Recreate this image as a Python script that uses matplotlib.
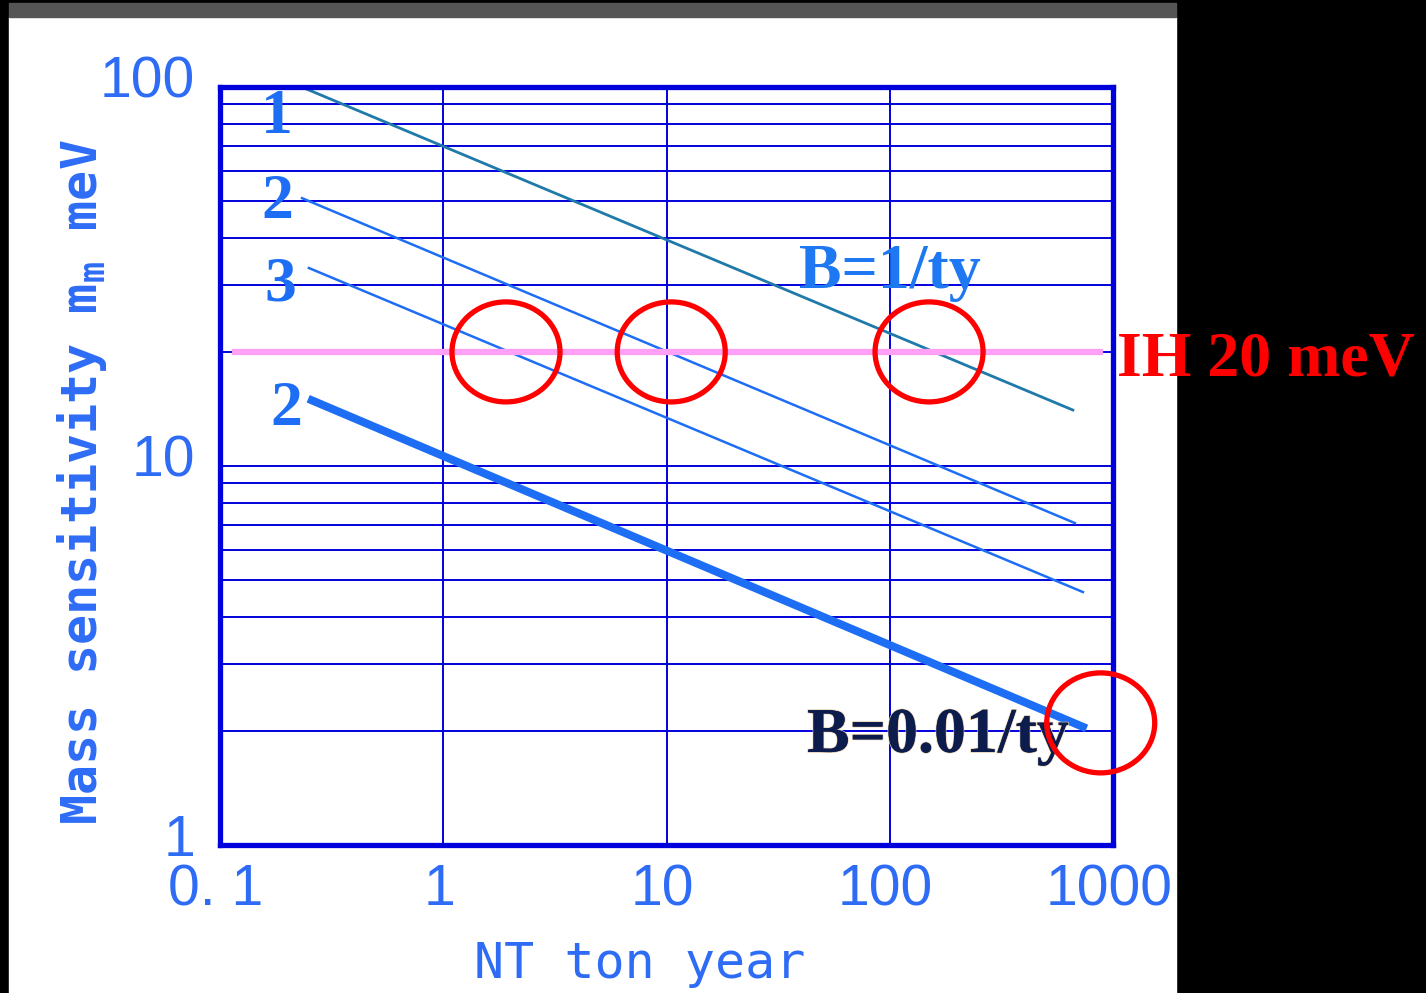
import matplotlib
matplotlib.use("Agg")
import matplotlib.pyplot as plt
from matplotlib import font_manager as fm
from matplotlib.patches import Rectangle, Ellipse
from matplotlib.ticker import FixedLocator, NullLocator, LogLocator
from matplotlib.transforms import ScaledTranslation
import matplotlib.patheffects as pe

# ---------------- data ----------------
x_ticks = [0.1, 1, 10, 100, 1000]
x_tick_labels = ["0. 1", "1", "10", "100", "1000"]
y_ticks = [1, 10, 100]
y_tick_labels = ["1", "10", "100"]

# sensitivity curves (NT in ton-year, m in meV), straight lines in log-log
nt_1 = [0.223, 661];  m_1 = [101.0, 14.05]   # B=1/ty, "1"
nt_2 = [0.233, 675];  m_2 = [50.9, 7.07]     # B=1/ty, "2"
nt_3 = [0.25, 733];   m_3 = [33.3, 4.65]     # B=1/ty, "3"
nt_4 = [0.258, 733];  m_4 = [14.9, 2.05]     # B=0.01/ty, "2"

curve_labels = ["1", "2", "3", "2"]
label_nt = [0.18, 0.18, 0.186, 0.198]
label_m = [75.6, 45.1, 27.4, 12.8]

ih_nt = [0.117, 873]; ih_m = [20, 20]

circle_nt = [1.91, 10.5, 150, 881]
circle_m = [20, 20, 20, 2.1]

# ---------------- fonts ----------------
names = {f.name for f in fm.fontManager.ttflist}
def pick(cands):
    for c in cands:
        if c in names:
            return c
    return cands[-1]

tick_font = pick(["Liberation Sans Narrow", "Liberation Sans"])
mono_font = pick(["Noto Sans Mono CJK JP", "DejaVu Sans Mono"])
serif_font = pick(["Liberation Serif", "DejaVu Serif"])
tick_size = 46 if tick_font == "Liberation Sans Narrow" else 41
mono_size = 42 if mono_font == "Noto Sans Mono CJK JP" else 36

W, H = 1426, 993
TXT_BLUE = "#2e6cf6"
GRID = "#0000dd"

fig = plt.figure(figsize=(W / 100, H / 100), dpi=100, facecolor="black")
# white panel and gray top bar
fig.patches.append(Rectangle((9 / W, 0), (1176 - 9) / W, (H - 17) / H,
                             transform=fig.transFigure, color="white", zorder=-10))
fig.patches.append(Rectangle((9 / W, 1 - 17 / H), (1176 - 9) / W, 14 / H,
                             transform=fig.transFigure, color="#555555", zorder=-10))

ax = fig.add_axes([220 / W, 1 - 845 / H, 893 / W, 758 / H])
ax.set_facecolor("white")
ax.set_xscale("log")
ax.set_yscale("log")
ax.set_xlim(0.1, 1000)
ax.set_ylim(1, 100)

ax.xaxis.set_major_locator(FixedLocator(x_ticks))
ax.xaxis.set_minor_locator(NullLocator())
ax.yaxis.set_major_locator(FixedLocator(y_ticks))
ax.yaxis.set_minor_locator(LogLocator(base=10, subs=range(2, 10)))
ax.set_xticklabels(x_tick_labels)
ax.set_yticklabels(y_tick_labels)
ax.yaxis.set_minor_formatter(plt.NullFormatter())
ax.tick_params(which="both", length=0)
ax.tick_params(axis="x", pad=13, labelsize=tick_size, labelcolor=TXT_BLUE)
ax.tick_params(axis="y", pad=18, labelsize=tick_size, labelcolor=TXT_BLUE)
for lab in ax.get_xticklabels() + ax.get_yticklabels():
    lab.set_fontfamily(tick_font)
for lab in ax.get_yticklabels():
    lab.set_transform(lab.get_transform() + ScaledTranslation(0, 0.1, fig.dpi_scale_trans))
for lab in ax.get_xticklabels():
    lab.set_transform(lab.get_transform() + ScaledTranslation(-0.04, 0, fig.dpi_scale_trans))

ax.grid(which="major", axis="both", color=GRID, lw=1.4)
ax.grid(which="minor", axis="y", color=GRID, lw=1.4)
ax.set_axisbelow(True)
for s in ax.spines.values():
    s.set_color(GRID)
    s.set_linewidth(3.8)
    s.set_zorder(5)

# curves
ax.plot(nt_1, m_1, color="#1f7aaa", lw=2.0, zorder=3)
ax.plot(nt_2, m_2, color="#1e6ef5", lw=1.8, zorder=3)
ax.plot(nt_3, m_3, color="#1e6ef5", lw=1.8, zorder=3)
ax.plot(nt_4, m_4, color="#1e6ef5", lw=5.8, zorder=3)
ax.plot(ih_nt, ih_m, color="#ffa0f6", lw=4.5, zorder=3)

for t, xv, yv in zip(curve_labels, label_nt, label_m):
    ax.text(xv, yv, t, ha="center", va="baseline", fontsize=46,
            fontweight="bold", family=serif_font, color="#1e6ef5", zorder=4)

ax.text(100, 29.5, "B=1/ty", ha="center", va="baseline", fontsize=46,
        fontweight="bold", family=serif_font, color="#1e78f2", zorder=4)
ax.text(164, 1.76, "B=0.01/ty", ha="center", va="baseline", fontsize=46,
        fontweight="bold", family=serif_font, color="#0c1c4c", zorder=4,
        path_effects=[pe.withStroke(linewidth=1.2, foreground="#e6cfae"), pe.Normal()])

# red circles (pixel-sized ellipses)
fig.canvas.draw()
to_axes = ax.transData + ax.transAxes.inverted()
for xv, yv in zip(circle_nt, circle_m):
    cx, cy = to_axes.transform((xv, yv))
    ax.add_patch(Ellipse((cx, cy), 108 / 893, 100 / 758, transform=ax.transAxes,
                         fill=False, edgecolor="#ff0000", lw=3.8, zorder=6, clip_on=False))

# IH label
fig.text(1117 / W, 1 - 375 / H, "IH 20 meV", ha="left", va="baseline", fontsize=46,
         fontweight="bold", family=serif_font, color="#ff0000")

# axis labels
fig.text(640 / W, 1 - 978 / H, "NT ton year", ha="center", va="baseline",
         fontsize=mono_size, family=[mono_font, "DejaVu Sans Mono"], color=TXT_BLUE)
fig.text(97 / W, 1 - 482 / H, r"Mass sensitivity m$_{\mathregular{m}}$ meV",
         rotation=90, rotation_mode="anchor", ha="center", va="baseline",
         fontsize=mono_size, fontweight="bold", family=[mono_font, "DejaVu Sans Mono"],
         color=TXT_BLUE)

fig.savefig("out.png", dpi=100, facecolor=fig.get_facecolor())
